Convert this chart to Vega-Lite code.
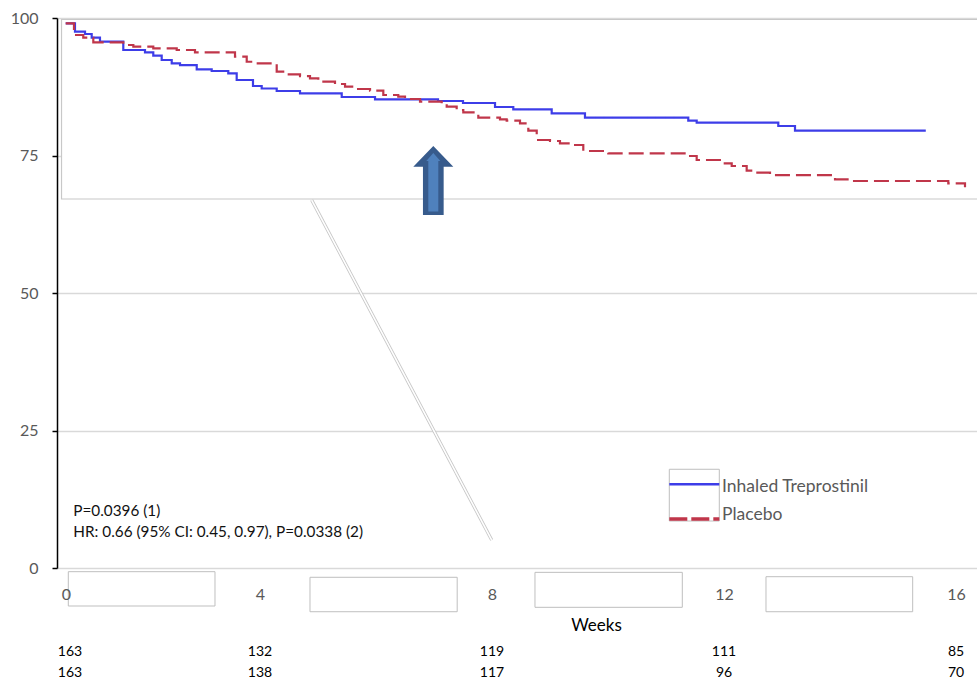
{
  "$schema": "https://vega.github.io/schema/vega-lite/v6.json",
  "width": 920,
  "height": 550,
  "autosize": {"type": "none"},
  "padding": {"left": 57, "top": 18, "right": 0, "bottom": 115},
  "background": "white",
  "config": {
    "view": {"stroke": null},
    "font": "Lato",
    "axisX": {
      "domain": false, "ticks": false, "grid": false,
      "labelFontSize": 16, "labelColor": "#595959",
      "labelPadding": 26, "labelBaseline": "middle",
      "labelOverlap": false, "labelFlush": false,
      "titleFontSize": 17, "titleFontWeight": "normal",
      "titleColor": "black", "titleX": 539, "titleY": 57,
      "titleAlign": "center", "titleBaseline": "middle"
    },
    "axisY": {
      "domain": true, "domainColor": "black", "domainWidth": 1.5,
      "ticks": true, "tickColor": "black", "tickSize": 5, "tickWidth": 1.5,
      "grid": true, "gridColor": "#d9d9d9", "gridWidth": 1.3,
      "labelFontSize": 16, "labelColor": "#595959", "labelPadding": 14
    }
  },
  "datasets": {
    "km": [
      {"arm": "Inhaled Treprostinil", "week": 0.650, "pct": 99.04},
      {"arm": "Inhaled Treprostinil", "week": 0.810, "pct": 97.51},
      {"arm": "Inhaled Treprostinil", "week": 0.983, "pct": 97.09},
      {"arm": "Inhaled Treprostinil", "week": 1.098, "pct": 96.42},
      {"arm": "Inhaled Treprostinil", "week": 1.241, "pct": 95.69},
      {"arm": "Inhaled Treprostinil", "week": 1.643, "pct": 94.18},
      {"arm": "Inhaled Treprostinil", "week": 2.017, "pct": 93.76},
      {"arm": "Inhaled Treprostinil", "week": 2.160, "pct": 93.15},
      {"arm": "Inhaled Treprostinil", "week": 2.305, "pct": 92.36},
      {"arm": "Inhaled Treprostinil", "week": 2.478, "pct": 91.76},
      {"arm": "Inhaled Treprostinil", "week": 2.621, "pct": 91.45},
      {"arm": "Inhaled Treprostinil", "week": 2.909, "pct": 90.67},
      {"arm": "Inhaled Treprostinil", "week": 3.167, "pct": 90.36},
      {"arm": "Inhaled Treprostinil", "week": 3.453, "pct": 89.95},
      {"arm": "Inhaled Treprostinil", "week": 3.598, "pct": 88.73},
      {"arm": "Inhaled Treprostinil", "week": 3.879, "pct": 87.64},
      {"arm": "Inhaled Treprostinil", "week": 4.029, "pct": 87.18},
      {"arm": "Inhaled Treprostinil", "week": 4.288, "pct": 86.73},
      {"arm": "Inhaled Treprostinil", "week": 4.690, "pct": 86.31},
      {"arm": "Inhaled Treprostinil", "week": 5.409, "pct": 85.64},
      {"arm": "Inhaled Treprostinil", "week": 5.983, "pct": 85.22},
      {"arm": "Inhaled Treprostinil", "week": 7.069, "pct": 84.91},
      {"arm": "Inhaled Treprostinil", "week": 7.500, "pct": 84.55},
      {"arm": "Inhaled Treprostinil", "week": 8.052, "pct": 83.82},
      {"arm": "Inhaled Treprostinil", "week": 8.367, "pct": 83.40},
      {"arm": "Inhaled Treprostinil", "week": 9.029, "pct": 82.67},
      {"arm": "Inhaled Treprostinil", "week": 9.603, "pct": 81.87},
      {"arm": "Inhaled Treprostinil", "week": 11.384, "pct": 81.33},
      {"arm": "Inhaled Treprostinil", "week": 11.529, "pct": 80.96},
      {"arm": "Inhaled Treprostinil", "week": 12.936, "pct": 80.36},
      {"arm": "Inhaled Treprostinil", "week": 13.224, "pct": 79.51},
      {"arm": "Inhaled Treprostinil", "week": 15.448, "pct": 79.51},
      {"arm": "Inhaled Treprostinil", "week": 15.460, "pct": 79.30},
      {"arm": "Placebo", "week": 0.650, "pct": 99.04},
      {"arm": "Placebo", "week": 0.793, "pct": 96.91},
      {"arm": "Placebo", "week": 0.953, "pct": 96.42},
      {"arm": "Placebo", "week": 1.126, "pct": 95.58},
      {"arm": "Placebo", "week": 1.643, "pct": 95.09},
      {"arm": "Placebo", "week": 1.816, "pct": 94.78},
      {"arm": "Placebo", "week": 2.160, "pct": 94.49},
      {"arm": "Placebo", "week": 2.564, "pct": 94.18},
      {"arm": "Placebo", "week": 2.879, "pct": 93.76},
      {"arm": "Placebo", "week": 3.569, "pct": 92.96},
      {"arm": "Placebo", "week": 3.771, "pct": 92.05},
      {"arm": "Placebo", "week": 3.914, "pct": 91.76},
      {"arm": "Placebo", "week": 4.288, "pct": 90.24},
      {"arm": "Placebo", "week": 4.431, "pct": 89.76},
      {"arm": "Placebo", "week": 4.690, "pct": 89.45},
      {"arm": "Placebo", "week": 4.862, "pct": 89.04},
      {"arm": "Placebo", "week": 5.005, "pct": 88.42},
      {"arm": "Placebo", "week": 5.293, "pct": 88.00},
      {"arm": "Placebo", "week": 5.466, "pct": 87.51},
      {"arm": "Placebo", "week": 5.638, "pct": 87.09},
      {"arm": "Placebo", "week": 5.897, "pct": 86.78},
      {"arm": "Placebo", "week": 6.126, "pct": 86.00},
      {"arm": "Placebo", "week": 6.384, "pct": 85.69},
      {"arm": "Placebo", "week": 6.500, "pct": 85.27},
      {"arm": "Placebo", "week": 6.759, "pct": 84.78},
      {"arm": "Placebo", "week": 7.133, "pct": 84.49},
      {"arm": "Placebo", "week": 7.219, "pct": 83.87},
      {"arm": "Placebo", "week": 7.391, "pct": 83.27},
      {"arm": "Placebo", "week": 7.505, "pct": 82.85},
      {"arm": "Placebo", "week": 7.764, "pct": 81.87},
      {"arm": "Placebo", "week": 8.138, "pct": 81.58},
      {"arm": "Placebo", "week": 8.253, "pct": 81.33},
      {"arm": "Placebo", "week": 8.483, "pct": 80.85},
      {"arm": "Placebo", "week": 8.626, "pct": 79.51},
      {"arm": "Placebo", "week": 8.771, "pct": 77.82},
      {"arm": "Placebo", "week": 9.000, "pct": 77.64},
      {"arm": "Placebo", "week": 9.172, "pct": 77.22},
      {"arm": "Placebo", "week": 9.345, "pct": 76.91},
      {"arm": "Placebo", "week": 9.574, "pct": 75.82},
      {"arm": "Placebo", "week": 10.005, "pct": 75.40},
      {"arm": "Placebo", "week": 11.384, "pct": 74.91},
      {"arm": "Placebo", "week": 11.529, "pct": 74.18},
      {"arm": "Placebo", "week": 11.960, "pct": 73.58},
      {"arm": "Placebo", "week": 12.133, "pct": 73.09},
      {"arm": "Placebo", "week": 12.391, "pct": 72.24},
      {"arm": "Placebo", "week": 12.505, "pct": 71.87},
      {"arm": "Placebo", "week": 12.793, "pct": 71.45},
      {"arm": "Placebo", "week": 13.914, "pct": 70.67},
      {"arm": "Placebo", "week": 14.172, "pct": 70.36},
      {"arm": "Placebo", "week": 15.867, "pct": 69.95},
      {"arm": "Placebo", "week": 16.155, "pct": 69.22}
    ],
    "atRisk": [
      {"arm": "Inhaled Treprostinil", "week": 0, "n": 163},
      {"arm": "Inhaled Treprostinil", "week": 4, "n": 132},
      {"arm": "Inhaled Treprostinil", "week": 8, "n": 119},
      {"arm": "Inhaled Treprostinil", "week": 12, "n": 111},
      {"arm": "Inhaled Treprostinil", "week": 16, "n": 85},
      {"arm": "Placebo", "week": 0, "n": 163},
      {"arm": "Placebo", "week": 4, "n": 138},
      {"arm": "Placebo", "week": 8, "n": 117},
      {"arm": "Placebo", "week": 12, "n": 96},
      {"arm": "Placebo", "week": 16, "n": 70}
    ],
    "labelBoxes": [
      {"from": 0.695, "to": 3.224, "top": -0.67, "bottom": -6.91},
      {"from": 4.862, "to": 7.400, "top": -1.69, "bottom": -7.95},
      {"from": 8.741, "to": 11.281, "top": -0.79, "bottom": -7.15},
      {"from": 12.724, "to": 15.253, "top": -1.58, "bottom": -7.95}
    ]
  },
  "layer": [
    {
      "description": "Zoomed inset frame; also carries both axes",
      "data": {"values": [{"from": 0.578, "to": 16.5, "top": 99.73, "bottom": 67.09}]},
      "mark": {"type": "rect", "fill": "white", "stroke": "#c8c8c8", "strokeWidth": 1.2},
      "encoding": {
        "x": {
          "field": "from", "type": "quantitative",
          "scale": {"domain": [0.5, 16.362], "nice": false, "zero": false},
          "axis": {
            "title": "Weeks",
            "values": [0.655, 4, 8, 12, 16],
            "labelExpr": "datum.value < 1 ? '0' : format(datum.value, 'd')",
            "zindex": 2
          }
        },
        "x2": {"field": "to"},
        "y": {
          "field": "top", "type": "quantitative",
          "scale": {"domain": [0, 100], "nice": false, "zero": false},
          "axis": {"title": null, "values": [0, 25, 50, 75, 100], "format": "d", "zindex": 0}
        },
        "y2": {"field": "bottom"}
      }
    },
    {
      "description": "Connector from the inset down to the main plot (outline)",
      "data": {"values": [{}]},
      "mark": {"type": "rule", "stroke": "#c4c4c4", "strokeWidth": 3.2},
      "encoding": {
        "x": {"datum": 4.891, "type": "quantitative"},
        "x2": {"datum": 7.995},
        "y": {"datum": 66.9, "type": "quantitative"},
        "y2": {"datum": 5.09}
      }
    },
    {
      "description": "Connector from the inset down to the main plot (white core)",
      "data": {"values": [{}]},
      "mark": {"type": "rule", "stroke": "white", "strokeWidth": 1.6},
      "encoding": {
        "x": {"datum": 4.891, "type": "quantitative"},
        "x2": {"datum": 7.995},
        "y": {"datum": 66.9, "type": "quantitative"},
        "y2": {"datum": 5.09}
      }
    },
    {
      "description": "Kaplan-Meier step curves",
      "data": {"name": "km"},
      "mark": {"type": "line", "interpolate": "step-after", "strokeWidth": 2.2},
      "encoding": {
        "x": {"field": "week", "type": "quantitative"},
        "y": {"field": "pct", "type": "quantitative"},
        "color": {
          "field": "arm", "type": "nominal",
          "scale": {"domain": ["Inhaled Treprostinil", "Placebo"], "range": ["#3d3de8", "#c0364a"]},
          "legend": null
        },
        "strokeDash": {
          "field": "arm", "type": "nominal",
          "scale": {"domain": ["Inhaled Treprostinil", "Placebo"], "range": [[1, 0], [15, 6]]},
          "legend": null
        }
      }
    },
    {
      "description": "Block arrow, outer body",
      "data": {"values": [{}]},
      "mark": {
        "type": "point", "filled": true, "opacity": 1,
        "shape": "M0,-1L0.58,-0.4L0.3,-0.4L0.3,1L-0.3,1L-0.3,-0.4L-0.58,-0.4Z",
        "size": 4761, "color": "#375b8c"
      },
      "encoding": {
        "x": {"datum": 6.988, "type": "quantitative"},
        "y": {"datum": 70.45, "type": "quantitative"}
      }
    },
    {
      "description": "Block arrow, lighter inner body",
      "data": {"values": [{}]},
      "mark": {
        "type": "point", "filled": true, "opacity": 1,
        "shape": "M0,-1L0.24,-0.727L0.171,-0.727L0.171,1L-0.171,1L-0.171,-0.727L-0.24,-0.727Z",
        "size": 3422, "color": "#4f81bd"
      },
      "encoding": {
        "x": {"datum": 6.988, "type": "quantitative"},
        "y": {"datum": 70.14, "type": "quantitative"}
      }
    },
    {
      "description": "Legend swatch frame",
      "data": {"values": [{}]},
      "mark": {"type": "rect", "fill": "white", "stroke": "#bfbfbf", "strokeWidth": 1},
      "encoding": {
        "x": {"datum": 11.057, "type": "quantitative"},
        "x2": {"datum": 11.919},
        "y": {"datum": 17.95, "type": "quantitative"},
        "y2": {"datum": 8.545}
      }
    },
    {
      "data": {"values": [{}]},
      "mark": {"type": "rule", "stroke": "#3d3de8", "strokeWidth": 2.4},
      "encoding": {
        "x": {"datum": 11.057, "type": "quantitative"},
        "x2": {"datum": 11.919},
        "y": {"datum": 15.22, "type": "quantitative"}
      }
    },
    {
      "data": {"values": [{}]},
      "mark": {"type": "rule", "stroke": "#c0364a", "strokeWidth": 3.5, "strokeDash": [18, 4]},
      "encoding": {
        "x": {"datum": 11.057, "type": "quantitative"},
        "x2": {"datum": 11.919},
        "y": {"datum": 8.91, "type": "quantitative"}
      }
    },
    {
      "data": {"values": [{}]},
      "mark": {"type": "text", "text": "Inhaled Treprostinil", "align": "left", "baseline": "middle", "fontSize": 17.5, "color": "#595959"},
      "encoding": {
        "x": {"datum": 11.966, "type": "quantitative"},
        "y": {"datum": 14.64, "type": "quantitative"}
      }
    },
    {
      "data": {"values": [{}]},
      "mark": {"type": "text", "text": "Placebo", "align": "left", "baseline": "middle", "fontSize": 17.5, "color": "#595959"},
      "encoding": {
        "x": {"datum": 11.966, "type": "quantitative"},
        "y": {"datum": 9.64, "type": "quantitative"}
      }
    },
    {
      "description": "Log-rank and Cox model results",
      "data": {"values": [{}]},
      "mark": {"type": "text", "text": "P=0.0396 (1)", "align": "left", "baseline": "middle", "fontSize": 15.3, "color": "#111111"},
      "encoding": {
        "x": {"datum": 0.781, "type": "quantitative"},
        "y": {"datum": 10.36, "type": "quantitative"}
      }
    },
    {
      "data": {"values": [{}]},
      "mark": {"type": "text", "text": "HR: 0.66 (95% CI: 0.45, 0.97), P=0.0338 (2)", "align": "left", "baseline": "middle", "fontSize": 15.3, "color": "#111111"},
      "encoding": {
        "x": {"datum": 0.781, "type": "quantitative"},
        "y": {"datum": 6.55, "type": "quantitative"}
      }
    },
    {
      "description": "Blank frames between the week labels",
      "data": {"name": "labelBoxes"},
      "mark": {"type": "rect", "fill": "white", "stroke": "#bfbfbf", "strokeWidth": 1},
      "encoding": {
        "x": {"field": "from", "type": "quantitative"},
        "x2": {"field": "to"},
        "y": {"field": "top", "type": "quantitative"},
        "y2": {"field": "bottom"}
      }
    },
    {
      "description": "Number at risk, treprostinil row",
      "data": {"name": "atRisk"},
      "transform": [{"filter": "datum.arm === 'Inhaled Treprostinil'"}],
      "mark": {"type": "text", "align": "center", "baseline": "middle", "fontSize": 14, "color": "black", "dx": {"expr": "datum.week === 0 ? 42 : 0"}},
      "encoding": {
        "x": {"field": "week", "type": "quantitative"},
        "y": {"datum": -15.36, "type": "quantitative"},
        "text": {"field": "n", "type": "quantitative"}
      }
    },
    {
      "description": "Number at risk, placebo row",
      "data": {"name": "atRisk"},
      "transform": [{"filter": "datum.arm === 'Placebo'"}],
      "mark": {"type": "text", "align": "center", "baseline": "middle", "fontSize": 14, "color": "black", "dx": {"expr": "datum.week === 0 ? 42 : 0"}},
      "encoding": {
        "x": {"field": "week", "type": "quantitative"},
        "y": {"datum": -19.09, "type": "quantitative"},
        "text": {"field": "n", "type": "quantitative"}
      }
    }
  ]
}
